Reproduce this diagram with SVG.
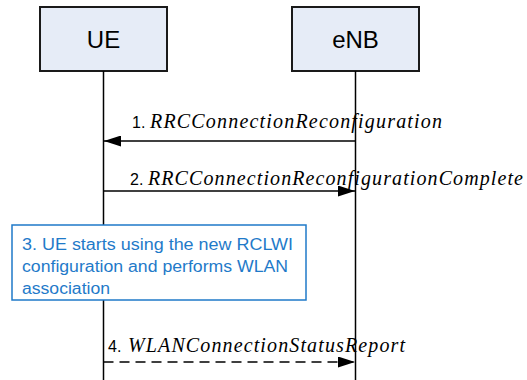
<svg xmlns="http://www.w3.org/2000/svg" width="527" height="380" viewBox="0 0 527 380">
<style>
.box{fill:#e6ecf7;stroke:#1a1a1a;stroke-width:2}
.life{stroke:#000;stroke-width:1.5;fill:none}
.msg{stroke:#000;stroke-width:1.5;fill:none}
.dash{stroke-dasharray:10 6}
.name{font-family:"Liberation Sans",Arial,sans-serif;font-size:24px;fill:#000;text-anchor:middle}
.lbl{font-family:"Liberation Sans",Arial,sans-serif;font-size:16px;fill:#000}
.it{font-family:"Liberation Serif","Times New Roman",serif;font-style:italic;font-size:20px;fill:#000}
.note{fill:#fff;stroke:#1f7ac9;stroke-width:1.5}
.nt{font-family:"Liberation Sans",Arial,sans-serif;font-size:16px;fill:#1f7ac9}
</style>
<defs>
<marker id="ah" markerWidth="17" markerHeight="11" refX="17" refY="5.5" orient="auto" markerUnits="userSpaceOnUse">
<path d="M0,0 L17,5.5 L0,11 Z" fill="#000"/>
</marker>
</defs>
<g id="ue">
<rect class="box" x="40" y="7" width="127" height="64"/>
<text class="name" x="103.5" y="48">UE</text>
<line class="life" x1="103.5" y1="71" x2="103.5" y2="380"/>
</g>
<g id="enb">
<rect class="box" x="292" y="7" width="127" height="64"/>
<text class="name" x="355.5" y="48">eNB</text>
<line class="life" x1="355.5" y1="71" x2="355.5" y2="380"/>
</g>
<g id="note3">
<rect class="note" x="12" y="225" width="294" height="75"/>
<text class="nt" x="22" y="250" textLength="271" lengthAdjust="spacingAndGlyphs">3. UE starts using the new RCLWI</text>
<text class="nt" x="22" y="272" textLength="266" lengthAdjust="spacingAndGlyphs">configuration and performs WLAN</text>
<text class="nt" x="22" y="294" textLength="88" lengthAdjust="spacingAndGlyphs">association</text>
</g>
<g id="connectors">
<line class="msg" x1="355.5" y1="141" x2="104" y2="141" marker-end="url(#ah)"/>
<text class="lbl" x="132" y="128">1.</text>
<text class="it" x="150" y="128" textLength="292" lengthAdjust="spacing">RRCConnectionReconfiguration</text>
<line class="msg" x1="103.5" y1="191" x2="355" y2="191" marker-end="url(#ah)"/>
<text class="lbl" x="130" y="185">2.</text>
<text class="it" x="148" y="185" textLength="375" lengthAdjust="spacing">RRCConnectionReconfigurationComplete</text>
<line class="msg dash" x1="103.5" y1="362" x2="355" y2="362" marker-end="url(#ah)"/>
<text class="lbl" x="108" y="352">4.</text>
<text class="it" x="128" y="352" textLength="277" lengthAdjust="spacing">WLANConnectionStatusReport</text>
</g>
</svg>
